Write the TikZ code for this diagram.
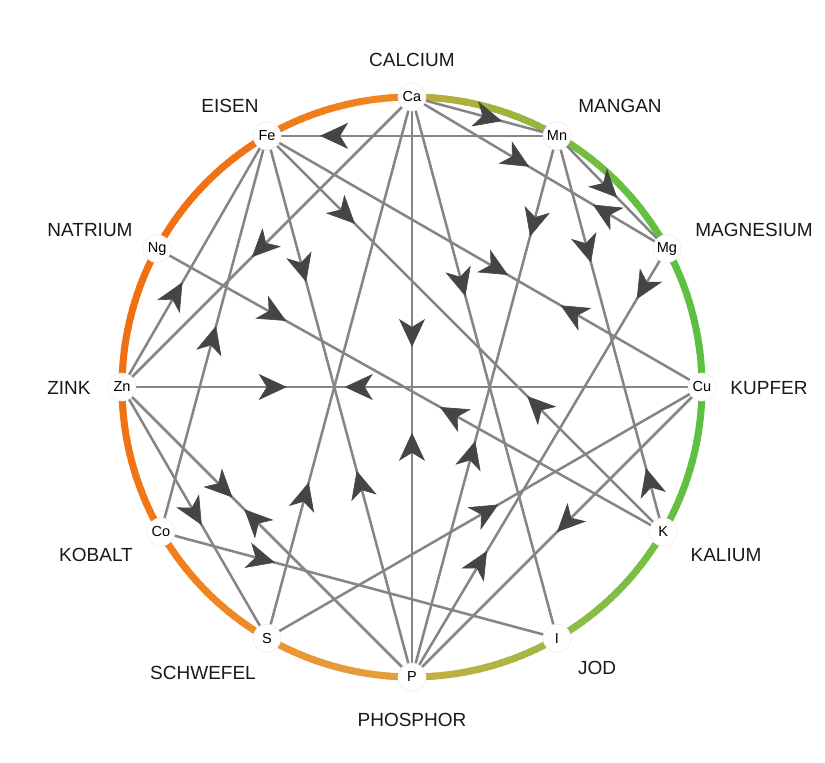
\documentclass[tikz,border=0pt]{standalone}
\usepackage{fontspec}
\setmainfont{Liberation Sans}
\usetikzlibrary{arrows.meta,decorations.markings}
\pgfdeclarelayer{bg}
\pgfsetlayers{bg,main}
\definecolor{linegray}{HTML}{858585}
\definecolor{arrowgray}{HTML}{454545}
\definecolor{rAa}{HTML}{C2AA38}\definecolor{rAb}{HTML}{86BA40}
\definecolor{rBa}{HTML}{78BC40}\definecolor{rBb}{HTML}{5DC040}
\definecolor{rCa}{HTML}{5CC040}\definecolor{rCb}{HTML}{5BC040}
\definecolor{rDa}{HTML}{5BC040}\definecolor{rDb}{HTML}{68BF44}
\definecolor{rEa}{HTML}{70BF46}\definecolor{rEb}{HTML}{94BA48}
\definecolor{rFa}{HTML}{A0B848}\definecolor{rFb}{HTML}{C8AE40}
\definecolor{rGa}{HTML}{E2A03E}\definecolor{rGb}{HTML}{EC9430}
\definecolor{rHa}{HTML}{EF8C28}\definecolor{rHb}{HTML}{F07A18}
\definecolor{rIa}{HTML}{F07818}\definecolor{rIb}{HTML}{F07010}
\definecolor{rJa}{HTML}{F07010}\definecolor{rJb}{HTML}{F07010}
\definecolor{rKa}{HTML}{F07010}\definecolor{rKb}{HTML}{F07414}
\definecolor{rLa}{HTML}{F07814}\definecolor{rLb}{HTML}{F08A26}
\newcommand\ringseg[4]{%
  \foreach \k in {0,...,19}{%
    \pgfmathsetmacro\aa{#1+(#2-#1)*\k/20}%
    \pgfmathsetmacro\bb{#1+(#2-#1)*(\k+1.2)/20}%
    \pgfmathtruncatemacro\pc{100-5*\k}%
    \draw[line width=7pt, color=#3!\pc!#4] (\aa:290pt) arc[start angle=\aa, end angle=\bb, radius=290pt];
  }}
\tikzset{
  mtip/.tip={Stealth[length=28pt,width=26pt,inset=8pt,line width=0.6pt,color=arrowgray]},
  link/.style={draw=linegray, line width=2.5pt},
  fwd/.style={postaction={decorate,decoration={markings,mark=at position #1 with {\arrow{mtip}}}}},
  bwd/.style={postaction={decorate,decoration={markings,mark=at position #1 with {\arrowreversed{mtip}}}}},
  elem/.style={circle, fill=white, draw=black!7, line width=0.6pt, minimum size=28pt, inner sep=0pt, font=\fontsize{14.5}{16}\selectfont},
  lbl/.style={font=\fontsize{19}{22}\selectfont, text=black!90},
}
\begin{document}
\begin{tikzpicture}[x=1pt,y=1pt]
\useasboundingbox (-412,-376) rectangle (413,387);
% element nodes
\node[elem] (Ca) at (90:290pt) {Ca};
\node[elem] (Mn) at (60:290pt) {Mn};
\node[elem] (Mg) at (28.5:290pt) {Mg};
\node[elem] (Cu) at (0:290pt) {Cu};
\node[elem] (K) at (-30:290pt) {K};
\node[elem] (I) at (-60:290pt) {I};
\node[elem] (P) at (-90:290pt) {P};
\node[elem] (S) at (-120:290pt) {S};
\node[elem] (Co) at (-150:290pt) {Co};
\node[elem] (Zn) at (180:290pt) {Zn};
\node[elem] (Ng) at (151.5:290pt) {Ng};
\node[elem] (Fe) at (120:290pt) {Fe};
% labels
\node[lbl] (lCa) at (0,327) {CALCIUM};
\node[lbl] (lMn) at (208,281) {MANGAN};
\node[lbl] (lMg) at (342,157) {MAGNESIUM};
\node[lbl] (lCu) at (357,-1) {KUPFER};
\node[lbl] (lK) at (314,-168) {KALIUM};
\node[lbl] (lI) at (185,-281) {JOD};
\node[lbl] (lP) at (0,-333) {PHOSPHOR};
\node[lbl] (lS) at (-209,-286) {SCHWEFEL};
\node[lbl] (lCo) at (-316,-168) {KOBALT};
\node[lbl] (lZn) at (-343,-1) {ZINK};
\node[lbl] (lNg) at (-322,157) {NATRIUM};
\node[lbl] (lFe) at (-182,281) {EISEN};
\begin{pgfonlayer}{bg}
\fill[white] (-412,-376) rectangle (413,387);
% ring
\ringseg{90}{60}{rAa}{rAb}
\ringseg{60}{28.5}{rBa}{rBb}
\ringseg{28.5}{0}{rCa}{rCb}
\ringseg{0}{-30}{rDa}{rDb}
\ringseg{-30}{-60}{rEa}{rEb}
\ringseg{-60}{-90}{rFa}{rFb}
\ringseg{-90}{-120}{rGa}{rGb}
\ringseg{-120}{-150}{rHa}{rHb}
\ringseg{-150}{-180}{rIa}{rIb}
\ringseg{180}{151.5}{rJa}{rJb}
\ringseg{151.5}{120}{rKa}{rKb}
\ringseg{120}{90}{rLa}{rLb}
% connectors
\draw[link, fwd=0.62] (Ca.center) -- (Mn.center);
\draw[link, fwd=0.817] (Mn.center) -- (Fe.center);
\draw[link, fwd=0.46, bwd=0.71] (Ca.center) -- (Mg.center);
\draw[link, fwd=0.547] (Mn.center) -- (Mg.center);
\draw[link, fwd=0.222, bwd=0.657] (Fe.center) -- (K.center);
\draw[link, fwd=0.186, bwd=0.564] (Mn.center) -- (P.center);
\draw[link, fwd=0.32, bwd=0.839] (Mn.center) -- (K.center);
\draw[link, fwd=0.552] (Ca.center) -- (Zn.center);
\draw[link, fwd=0.27, bwd=0.619] (Fe.center) -- (P.center);
\draw[link, fwd=0.554, bwd=0.675] (Fe.center) -- (Cu.center);
\draw[link, fwd=0.368] (Ca.center) -- (I.center);
\draw[link, fwd=0.118, bwd=0.706] (Mg.center) -- (P.center);
\draw[link, fwd=0.417] (Zn.center) -- (Fe.center);
\draw[link, fwd=0.255, bwd=0.559] (Ng.center) -- (K.center);
\draw[link, fwd=0.431, bwd=0.579] (Ca.center) -- (P.center);
\draw[link, fwd=0.52] (Co.center) -- (Fe.center);
\draw[link, fwd=0.284, bwd=0.384] (Zn.center) -- (Cu.center);
\draw[link, fwd=0.288] (S.center) -- (Ca.center);
\draw[link, fwd=0.381, bwd=0.422] (Zn.center) -- (P.center);
\draw[link, fwd=0.55] (Zn.center) -- (S.center);
\draw[link, fwd=0.532] (S.center) -- (Cu.center);
\draw[link, fwd=0.50] (Cu.center) -- (P.center);
\draw[link, fwd=0.288] (Co.center) -- (I.center);
\end{pgfonlayer}
\end{tikzpicture}
\end{document}
